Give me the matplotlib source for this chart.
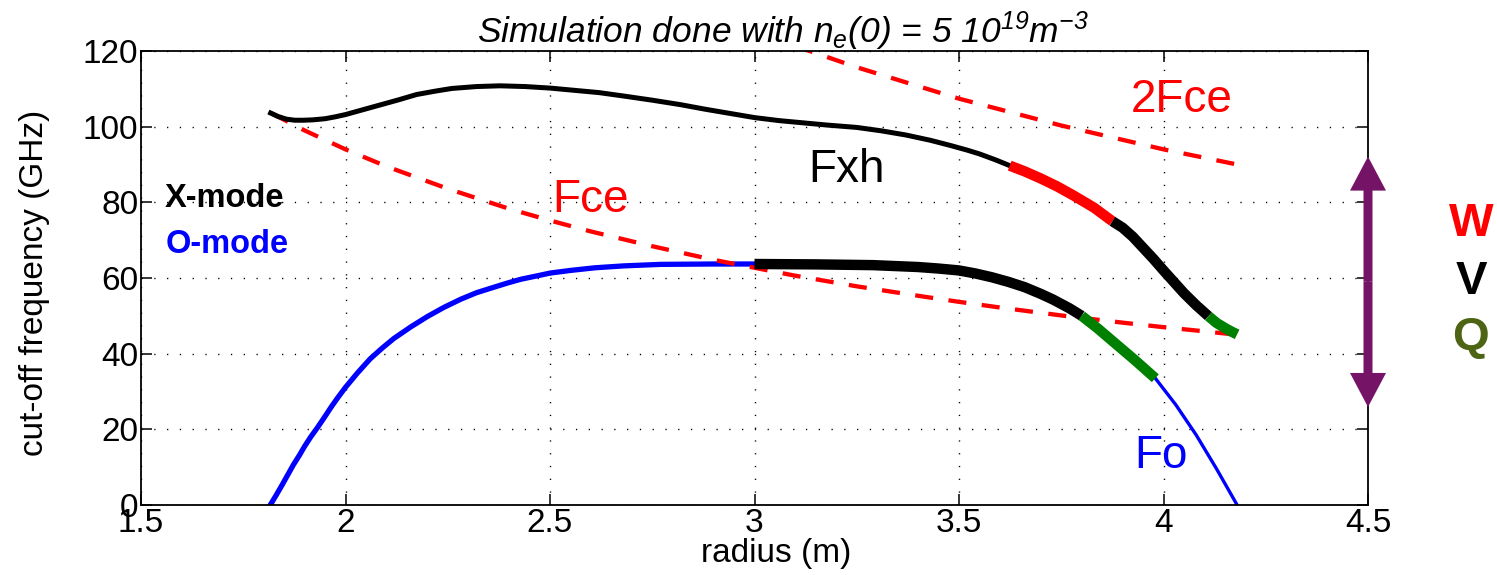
import numpy as np
import matplotlib
matplotlib.use("Agg")
import matplotlib.pyplot as plt
from matplotlib.patches import FancyArrow

plt.rcParams['font.family'] = ['Liberation Sans', 'DejaVu Sans']
plt.rcParams['mathtext.fontset'] = 'custom'
plt.rcParams['mathtext.rm'] = 'Liberation Sans:italic'
plt.rcParams['mathtext.it'] = 'Liberation Sans:italic'

# X-mode upper cut-off (Fxh)
fxh_r = [1.817, 1.835, 1.855, 1.876, 1.896, 1.92, 1.95, 1.975, 2.0, 2.04, 2.08, 2.13,
         2.174, 2.22, 2.26, 2.32, 2.378, 2.44, 2.5, 2.56, 2.62, 2.68, 2.75, 2.82,
         2.88, 2.94, 3.0, 3.06, 3.12, 3.18, 3.25, 3.31, 3.37, 3.43, 3.48, 3.52,
         3.55, 3.59, 3.624, 3.66, 3.70, 3.74, 3.78, 3.83, 3.875, 3.90, 3.925, 3.95,
         3.975, 4.0, 4.025, 4.05, 4.08, 4.11, 4.13, 4.15, 4.165, 4.18]
fxh_f = [103.6, 102.7, 102.0, 101.7, 101.7, 101.8, 102.1, 102.6, 103.2, 104.4, 105.6, 107.1,
         108.5, 109.4, 110.1, 110.6, 110.8, 110.6, 110.2, 109.6, 109.0, 108.1, 107.0, 105.8,
         104.6, 103.5, 102.4, 101.6, 101.0, 100.4, 99.8, 98.9, 97.8, 96.4, 95.0, 93.8,
         92.8, 91.2, 89.7, 88.2, 86.3, 84.2, 81.8, 78.6, 75.0, 73.3, 70.9, 68.0,
         65.1, 62.0, 59.0, 56.0, 52.8, 49.9, 48.1, 46.8, 45.9, 45.1]

# O-mode cut-off (Fo)
fo_r = [1.816, 1.83, 1.845, 1.86, 1.873, 1.887, 1.90, 1.915, 1.931, 1.948, 1.965, 1.982,
        2.0, 2.03, 2.061, 2.09, 2.118, 2.16, 2.2, 2.24, 2.282, 2.32, 2.364, 2.40,
        2.43, 2.47, 2.5, 2.55, 2.61, 2.68, 2.77, 2.9, 3.0, 3.15, 3.29, 3.4, 3.45,
        3.5, 3.54, 3.58, 3.62, 3.66, 3.70, 3.73, 3.77, 3.8, 3.84, 3.88, 3.93, 3.98,
        4.03, 4.08, 4.13, 4.18]
fo_f = [0, 2.5, 5.3, 8.2, 10.7, 13.1, 15.5, 18.0, 20.4, 23.1, 25.9, 28.5,
        31.1, 35.0, 38.7, 41.5, 44.0, 47.1, 49.8, 52.2, 54.4, 56.1, 57.6, 58.8,
        59.7, 60.6, 61.3, 62.0, 62.7, 63.2, 63.6, 63.7, 63.7, 63.6, 63.4, 62.9, 62.5,
        62.0, 61.2, 60.2, 59.0, 57.6, 55.8, 54.3, 52.0, 50.0, 46.6, 42.9, 38.3, 33.5,
        26.5, 18.5, 9.5, 0]

# electron cyclotron frequency and its second harmonic
fce_r = [1.82, 1.9, 2.0, 2.1, 2.25, 2.4, 2.5, 2.6, 2.75, 2.9, 3.0, 3.1, 3.25, 3.4,
         3.5, 3.6, 3.75, 3.9, 4.0, 4.1, 4.18]
fce_f = [103.5, 99.0, 94.0, 89.5, 83.6, 78.3, 75.2, 72.3, 68.4, 64.8, 62.7, 60.6, 57.8, 55.3,
         53.7, 52.2, 50.1, 48.2, 47.0, 45.9, 45.0]
f2ce_r = [3.10, 3.25, 3.5, 3.75, 4.0, 4.18]
f2ce_f = [121.3, 115.7, 107.4, 100.3, 94.0, 90.0]

# radial windows of the W / V / Q bands
w_band = (3.624, 3.875)
v_band_x = (3.875, 4.11)
q_band_x = (4.11, 4.18)
v_band_o = (3.0, 3.8)
q_band_o = (3.8, 3.98)

# frequency span of the band arrow (GHz)
arrow_lo, arrow_hi = 25.9, 92.1

purple = '#751466'
olive = '#4E6415'


def part(r, f, lo, hi):
    r = np.asarray(r)
    f = np.asarray(f)
    m = (r >= lo - 1e-9) & (r <= hi + 1e-9)
    return r[m], f[m]


fig = plt.figure(figsize=(14.97, 5.75), dpi=100)
ax = fig.add_axes([141 / 1497, 70 / 575, 1227 / 1497, 454 / 575])

# O-mode
ax.plot(*part(fo_r, fo_f, 1.8, 3.0), color='blue', lw=3.8, zorder=2)
ax.plot(*part(fo_r, fo_f, 3.98, 4.2), color='blue', lw=2.4, zorder=2)
ax.plot(*part(fo_r, fo_f, *v_band_o), color='black', lw=7.5, zorder=3,
        solid_capstyle='butt')
ax.plot(*part(fo_r, fo_f, *q_band_o), color='green', lw=7.5, zorder=3,
        solid_capstyle='butt')

# X-mode
ax.plot(*part(fxh_r, fxh_f, 1.8, w_band[0]), color='black', lw=3.6, zorder=3)
ax.plot(*part(fxh_r, fxh_f, *w_band), color='red', lw=7.5, zorder=4,
        solid_capstyle='butt')
ax.plot(*part(fxh_r, fxh_f, *v_band_x), color='black', lw=7.5, zorder=4,
        solid_capstyle='butt')
ax.plot(*part(fxh_r, fxh_f, *q_band_x), color='green', lw=7.5, zorder=4,
        solid_capstyle='butt')

# cyclotron lines
ax.plot(fce_r, fce_f, color='red', lw=3.1, dashes=(4.2, 3.6), zorder=2.5)
ax.plot(f2ce_r, f2ce_f, color='red', lw=3.1, dashes=(4.2, 3.6), zorder=2.5)

ax.set_xlim(1.5, 4.5)
ax.set_ylim(0, 120)
ax.set_xticks([1.5, 2, 2.5, 3, 3.5, 4, 4.5])
ax.set_xticklabels(['1.5', '2', '2.5', '3', '3.5', '4', '4.5'])
ax.set_yticks([0, 20, 40, 60, 80, 100, 120])
ax.tick_params(direction='in', length=8, width=1.1, top=True, right=True,
               labelsize=24, pad=2)
for s in ax.spines.values():
    s.set_linewidth(1.3)
ax.grid(True, color='black', lw=1.0, linestyle=(0, (0.9, 8.3)))
ax.set_axisbelow(True)

ax.set_xlabel('radius (m)', fontsize=24)
ax.xaxis.set_label_coords(0.518, -0.072)
ax.set_ylabel('cut-off frequency (GHz)', fontsize=24)
ax.yaxis.set_label_coords(-0.074, 0.49)

ax.text(3.224, 88.6, 'Fxh', fontsize=33, color='black', ha='center', va='center')
ax.text(2.60, 80.7, 'Fce', fontsize=33, color='red', ha='center', va='center')
ax.text(4.045, 107.0, '2Fce', fontsize=33, color='red', ha='center', va='center')
ax.text(3.994, 13.0, 'Fo', fontsize=33, color='blue', ha='center', va='center')
ax.text(1.559, 81.0, 'X-mode', fontsize=23.5, fontweight='bold', color='black',
        ha='left', va='center')
ax.text(1.559, 68.8, 'O-mode', fontsize=23.5, fontweight='bold', color='blue',
        ha='left', va='center')

fig.text(783 / 1497, 1 - 31 / 575,
         'Simulation done with $n_e$(0) = 5 10$^{19}$m$^{-3}$',
         fontsize=25.5, style='italic', ha='center', va='center')

# double arrow on the right frame edge spanning the W / V / Q range
mid = (arrow_lo + arrow_hi) / 2
for end in (arrow_hi, arrow_lo):
    ax.add_patch(FancyArrow(4.5, mid, 0, end - mid, width=0.022, head_width=0.088,
                            head_length=9.0, length_includes_head=True,
                            color=purple, lw=0, clip_on=False, zorder=6))

# frequency band labels
fig.text(1471 / 1497, 1 - 224 / 575, 'W', fontsize=34, fontweight='bold',
         color='red', ha='center', va='center')
fig.text(1471 / 1497, 1 - 282 / 575, 'V', fontsize=34, fontweight='bold',
         color='black', ha='center', va='center')
fig.text(1471 / 1497, 1 - 338 / 575, 'Q', fontsize=34, fontweight='bold',
         color=olive, ha='center', va='center')

fig.savefig('out.png', dpi=100)
